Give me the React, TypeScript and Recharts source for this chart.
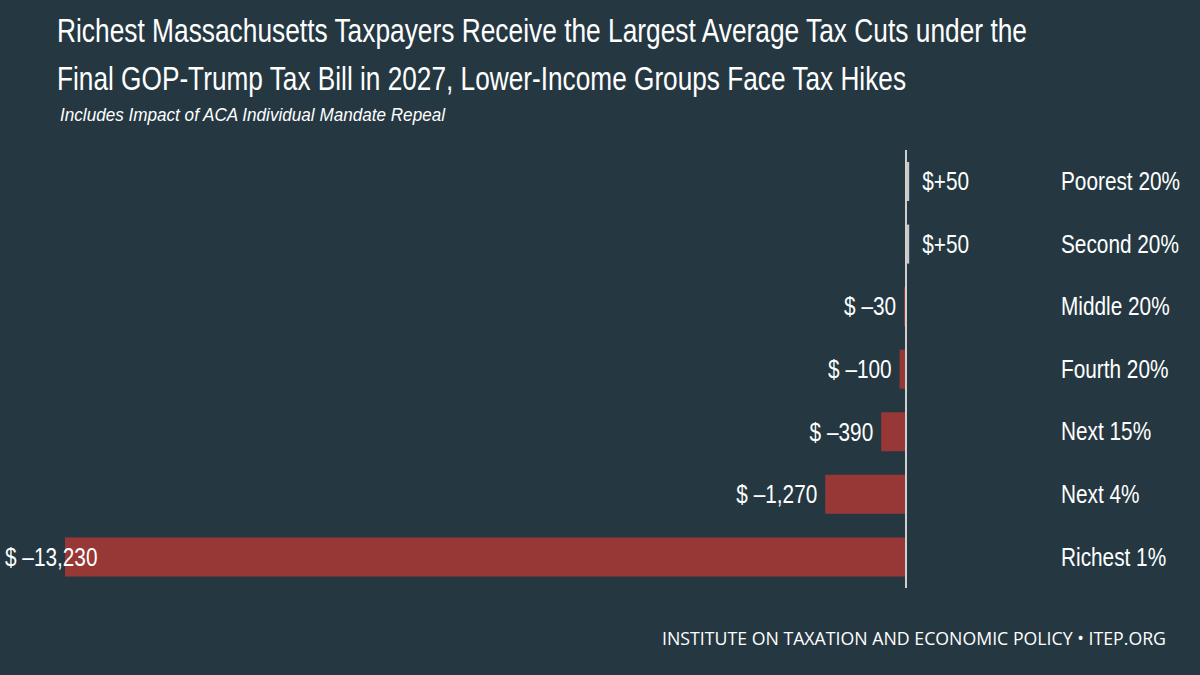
import React from 'react';
import { BarChart, Bar, XAxis, YAxis, Cell, LabelList, ReferenceLine } from 'recharts';

const groups = ['Poorest 20%', 'Second 20%', 'Middle 20%', 'Fourth 20%', 'Next 15%', 'Next 4%', 'Richest 1%'];
const avgTaxChange = [50, 50, -30, -100, -390, -1270, -13230];

const data = groups.map((group, i) => ({ group, value: avgTaxChange[i] }));

const BG = '#253842';
const RED = '#983836';
const GRAY = '#c9c9c9';
const FONT = '"Liberation Sans", Arial, sans-serif';
const SQUEEZE = 0.8;

function formatValue(v: number) {
  return v > 0 ? `$+${v}` : `$ \u2013${Math.abs(v).toLocaleString('en-US')}`;
}

// condensed text: scale glyphs horizontally around the anchor point
function NarrowText({ x, y, anchor, children, size = 26 }: any) {
  return (
    <text
      transform={`translate(${x},${y}) scale(${SQUEEZE},1)`}
      x={0}
      y={0}
      textAnchor={anchor}
      dominantBaseline="central"
      fill="#ffffff"
      fontSize={size}
      fontFamily={FONT}
    >
      {children}
    </text>
  );
}

// text squeezed to a given on-screen width
function FitText({ x, y, width, scale, size, children, ...rest }: any) {
  return (
    <text
      transform={`translate(${x},${y}) scale(${scale},1)`}
      x={0}
      y={0}
      fontSize={size}
      textLength={width / scale}
      lengthAdjust="spacingAndGlyphs"
      {...rest}
    >
      {children}
    </text>
  );
}

function ValueLabel(props: any) {
  const { x, y, width, height, value } = props;
  const left = Math.min(x, x + width);
  const right = Math.max(x, x + width);
  const cy = y + height / 2;
  if (value > 0) return <NarrowText x={right + 13} y={cy} anchor="start">{formatValue(value)}</NarrowText>;
  if (left < 120) return <NarrowText x={5} y={cy} anchor="start">{formatValue(value)}</NarrowText>;
  return <NarrowText x={left - 8} y={cy} anchor="end">{formatValue(value)}</NarrowText>;
}

function GroupTick(props: any) {
  const { x, y, payload } = props;
  return <NarrowText x={x} y={y} anchor="start">{payload.value}</NarrowText>;
}

export default function App() {
  return (
    <div style={{ position: 'absolute', left: 0, top: 0, width: 1200, height: 675, background: BG, overflow: 'hidden' }}>
      <div style={{ position: 'absolute', left: 0, top: 0 }}>
        <BarChart
          width={1200}
          height={675}
          data={data}
          layout="vertical"
          margin={{ top: 150, right: 0, bottom: 87, left: 65 }}
        >
          <XAxis type="number" domain={[-13230, 2344]} hide />
          <YAxis
            type="category"
            dataKey="group"
            orientation="right"
            width={145}
            axisLine={false}
            tickLine={false}
            tick={<GroupTick />}
            tickMargin={0}
            tickSize={6}
          />
          <Bar dataKey="value" barSize={39} isAnimationActive={false}>
            {data.map((d) => (
              <Cell key={d.group} fill={d.value > 0 ? GRAY : RED} />
            ))}
            <LabelList dataKey="value" content={<ValueLabel />} />
          </Bar>
          <ReferenceLine x={0} stroke="#d0d0d0" strokeWidth={2} ifOverflow="visible" />
        </BarChart>
      </div>
      <svg width={1200} height={675} style={{ position: 'absolute', left: 0, top: 0, pointerEvents: 'none' }}>
        <g fill="#ffffff" fontFamily={FONT}>
          <FitText x={57} y={42} size={34} width={970} scale={0.75}>
            Richest Massachusetts Taxpayers Receive the Largest Average Tax Cuts under the
          </FitText>
          <FitText x={57} y={90} size={34} width={849} scale={0.75}>
            Final GOP-Trump Tax Bill in 2027, Lower-Income Groups Face Tax Hikes
          </FitText>
          <FitText x={60} y={121} size={18} width={385} scale={0.8} fontStyle="italic">
            Includes Impact of ACA Individual Mandate Repeal
          </FitText>
          <text x={662} y={645} fontSize={18} fontFamily='"Open Sans", sans-serif' textLength={504} lengthAdjust="spacingAndGlyphs">
            INSTITUTE ON TAXATION AND ECONOMIC POLICY • ITEP.ORG
          </text>
        </g>
      </svg>
    </div>
  );
}
